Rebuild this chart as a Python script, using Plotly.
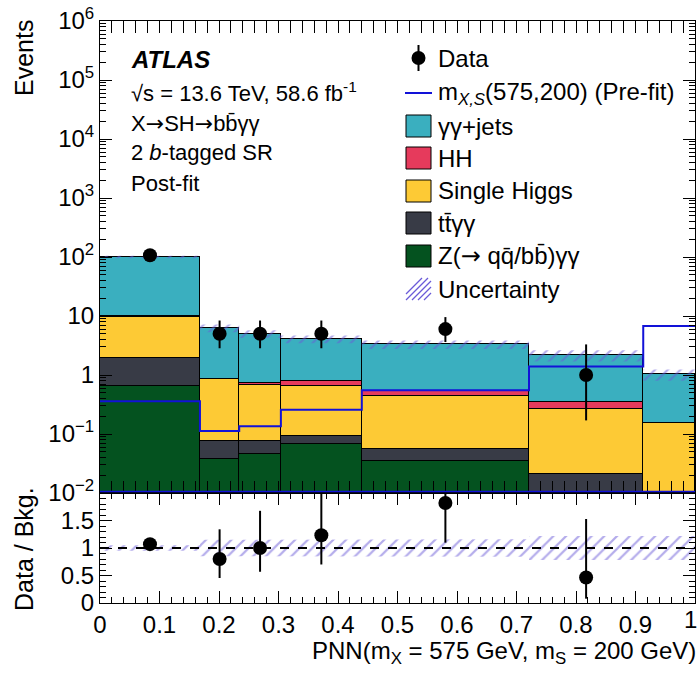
import plotly.graph_objects as go

# ---------------- data ----------------
bin_edges = [0.0, 0.168, 0.234, 0.304, 0.44, 0.721, 0.913, 1.0]

# post-fit background yields per bin (stacked bottom -> top)
z_qq_gg = [0.65, 0.037, 0.046, 0.067, 0.035, 0.0, 0.0]
ttbar_gg = [1.30, 0.038, 0.029, 0.024, 0.020, 0.021, 0.0]
single_higgs = [7.85, 0.77, 0.60, 0.565, 0.385, 0.24, 0.152]
hh = [0.10, 0.01, 0.065, 0.13, 0.10, 0.09, 0.0]
gg_jets = [90.1, 5.40, 4.26, 3.27, 2.76, 1.81, 0.868]

# relative background uncertainty per bin
unc_rel = [0.05, 0.15, 0.15, 0.15, 0.16, 0.22, 0.22]

# signal m_{X,S} = (575, 200), pre-fit
signal_prefit = [0.36, 0.112, 0.135, 0.258, 0.55, 1.40, 6.8]

# observed data (first six bins) with Poisson intervals
data_counts = [107, 5, 5, 5, 6, 1]
data_err_hi = [10.9, 3.38, 3.38, 3.38, 3.58, 2.30]
data_err_lo = [10.3, 2.16, 2.16, 2.16, 2.38, 0.83]

x_ticks = [0, 0.1, 0.2, 0.3, 0.4, 0.5, 0.6, 0.7, 0.8, 0.9, 1.0]
x_labels = ["0", "0.1", "0.2", "0.3", "0.4", "0.5", "0.6", "0.7", "0.8", "0.9", "1"]
main_yticks = [1e-2, 1e-1, 1, 10, 1e2, 1e3, 1e4, 1e5, 1e6]
main_ylabels = ["10<sup>\u22122</sup>", "10<sup>\u22121</sup>", "1", "10",
                "10<sup>2</sup>", "10<sup>3</sup>", "10<sup>4</sup>",
                "10<sup>5</sup>", "10<sup>6</sup>"]
main_minor_mult = [2, 3, 4, 5, 6, 7, 8, 9]
ratio_yticks = [0, 0.5, 1, 1.5]
ratio_ylabels = ["0", "0.5", "1", "1.5"]

# ---------------- derived ----------------
nb = len(bin_edges) - 1
centers = [(bin_edges[i] + bin_edges[i + 1]) / 2 for i in range(nb)]
widths = [bin_edges[i + 1] - bin_edges[i] for i in range(nb)]
total = [z_qq_gg[i] + ttbar_gg[i] + single_higgs[i] + hh[i] + gg_jets[i] for i in range(nb)]
minor_vals = [d * m for d in main_yticks[:-1] for m in main_minor_mult]

FONT = "Liberation Sans, Arial, Helvetica, sans-serif"
ARROW = "<span style='font-family:DejaVu Sans'>\u2192</span>"
C_GGJ = "#3aafbf"
C_HH = "#e63a5c"
C_SH = "#fdca35"
C_TT = "#383b46"
C_Z = "#04521f"
C_SIG = "#1212d8"
C_HATCH = "#6a5ad8"

fig = go.Figure()

# stacked backgrounds
stack = [
    ("Z", z_qq_gg, C_Z),
    ("tt", ttbar_gg, C_TT),
    ("SH", single_higgs, C_SH),
    ("HH", hh, C_HH),
    ("ggj", gg_jets, C_GGJ),
]
for name, vals, col in stack:
    fig.add_trace(go.Bar(
        x=centers, y=vals, width=widths, name=name,
        marker=dict(color=col, line=dict(color="black", width=1)),
        xaxis="x", yaxis="y", showlegend=False, hoverinfo="skip"))


def step_band(lo, hi):
    xs, ys = [], []
    for i in range(nb):
        xs += [bin_edges[i], bin_edges[i + 1]]
        ys += [hi[i], hi[i]]
    for i in reversed(range(nb)):
        xs += [bin_edges[i + 1], bin_edges[i]]
        ys += [lo[i], lo[i]]
    xs.append(xs[0])
    ys.append(ys[0])
    return xs, ys


hatch = dict(shape="/", fgcolor=C_HATCH, bgcolor="rgba(0,0,0,0)", size=9, solidity=0.25)

# uncertainty band on the total background
bx, by = step_band([total[i] * (1 - unc_rel[i]) for i in range(nb)],
                   [total[i] * (1 + unc_rel[i]) for i in range(nb)])
fig.add_trace(go.Scatter(
    x=bx, y=by, mode="lines", fill="toself", line=dict(width=0),
    fillcolor="rgba(0,0,0,0)", fillpattern=hatch,
    xaxis="x", yaxis="y", showlegend=False, hoverinfo="skip"))

# signal step line
sx = list(bin_edges)
sy = list(signal_prefit) + [signal_prefit[-1]]
fig.add_trace(go.Scatter(
    x=sx, y=sy, mode="lines", line=dict(color=C_SIG, width=2, shape="hv"),
    xaxis="x", yaxis="y", showlegend=False, hoverinfo="skip"))

# data
fig.add_trace(go.Scatter(
    x=centers[:len(data_counts)], y=data_counts, mode="markers",
    marker=dict(color="black", size=14),
    error_y=dict(type="data", symmetric=False, array=data_err_hi,
                 arrayminus=data_err_lo, color="black", thickness=2, width=0),
    xaxis="x", yaxis="y", showlegend=False, hoverinfo="skip"))

# carrier for the minor log ticks of the upper panel
fig.add_trace(go.Scatter(x=[0.5], y=[1], mode="markers", marker=dict(opacity=0),
                         xaxis="x", yaxis="y3", showlegend=False, hoverinfo="skip"))

# ---------------- ratio panel ----------------
rx, ry = step_band([1 - u for u in unc_rel], [1 + u for u in unc_rel])
fig.add_trace(go.Scatter(
    x=rx, y=ry, mode="lines", fill="toself", line=dict(width=0),
    fillcolor="rgba(0,0,0,0)", fillpattern=hatch,
    xaxis="x2", yaxis="y2", showlegend=False, hoverinfo="skip"))

fig.add_trace(go.Scatter(
    x=[bin_edges[0], bin_edges[-1]], y=[1, 1], mode="lines",
    line=dict(color="black", width=2, dash="dash"),
    xaxis="x2", yaxis="y2", showlegend=False, hoverinfo="skip"))

nd = len(data_counts)
fig.add_trace(go.Scatter(
    x=centers[:nd], y=[data_counts[i] / total[i] for i in range(nd)],
    mode="markers", marker=dict(color="black", size=14),
    error_y=dict(type="data", symmetric=False,
                 array=[data_err_hi[i] / total[i] for i in range(nd)],
                 arrayminus=[data_err_lo[i] / total[i] for i in range(nd)],
                 color="black", thickness=2, width=0),
    xaxis="x2", yaxis="y2", showlegend=False, hoverinfo="skip"))

# ---------------- layout ----------------
W, H = 700, 678
L, R, T, B = 100, 5, 21, 75
PW, PH = W - L - R, H - T - B
split = 110.0 / PH


def px(x):
    return (x - L) / PW


def py(y):
    return (H - B - y) / PH


tickfont = dict(family=FONT, size=24, color="black")
common_x = dict(range=[0, 1], showline=True, linecolor="black", linewidth=1,
                mirror="allticks", ticks="inside", ticklen=12, tickcolor="black",
                tickvals=x_ticks, showgrid=False, zeroline=False, automargin=False,
                minor=dict(ticks="inside", ticklen=6, dtick=0.02, tickcolor="black",
                           showgrid=False))

# the last x label sits at the page edge; it is placed as an annotation below
x_labels_axis = x_labels[:-1] + [""]

fig.update_layout(
    width=W, height=H,
    margin=dict(l=L, r=R, t=T, b=B, pad=0, autoexpand=False),
    paper_bgcolor="white", plot_bgcolor="white",
    barmode="stack", bargap=0,
    font=dict(family=FONT, size=24, color="black"),
    showlegend=False,
    xaxis=dict(domain=[0, 1], anchor="y", showticklabels=False, **common_x),
    yaxis=dict(domain=[split, 1], anchor="x", type="log", range=[-2, 6],
               tickvals=main_yticks, ticktext=main_ylabels, tickfont=tickfont,
               showline=True, linecolor="black", linewidth=1, mirror="allticks",
               ticks="inside", ticklen=12, tickcolor="black", showgrid=False,
               automargin=False),
    yaxis3=dict(domain=[split, 1], anchor="x", overlaying="y", type="log",
                range=[-2, 6], tickvals=minor_vals, showticklabels=False,
                showline=False, mirror="allticks", ticks="inside", ticklen=6,
                tickcolor="black", showgrid=False, zeroline=False, automargin=False),
    xaxis2=dict(domain=[0, 1], anchor="y2", tickfont=tickfont,
                ticktext=x_labels_axis, **common_x),
    yaxis2=dict(domain=[0, split], anchor="x2", range=[0, 2],
                tickvals=ratio_yticks, ticktext=ratio_ylabels, tickfont=tickfont,
                showline=True, linecolor="black", linewidth=1, mirror="allticks",
                ticks="inside", ticklen=12, tickcolor="black", showgrid=False,
                zeroline=False, automargin=False,
                minor=dict(ticks="inside", ticklen=6, dtick=0.1, tickcolor="black",
                           showgrid=False)),
)

ann = []
shapes = []


def text(x, y, s, size=23, xanchor="left", angle=0, yanchor="middle"):
    ann.append(dict(x=px(x), y=py(y), xref="paper", yref="paper", text=s,
                    showarrow=False, xanchor=xanchor, yanchor=yanchor,
                    textangle=angle, font=dict(family=FONT, size=size, color="black")))


# last x tick label, kept inside the page
text(699, 620, x_labels[-1], size=24, xanchor="right")

# axis titles
text(24, 58, "Events", size=25, xanchor="center", angle=-90)
text(24, 549, "Data / Bkg.", size=25, xanchor="center", angle=-90)
text(698, 652, "PNN(m<sub>X</sub> = 575 GeV, m<sub>S</sub> = 200 GeV)", size=24,
     xanchor="right")

# labels
text(129, 60, "<b><i>ATLAS</i></b>", size=24)
text(129, 92, "\u221As = 13.6 TeV, 58.6 fb<sup>-1</sup>", size=22)
text(129, 123, "X" + ARROW + "SH" + ARROW + "bb\u0304\u03b3\u03b3", size=22)
text(129, 153, "2 <i>b</i>-tagged SR", size=22)
text(129, 183, "Post-fit", size=22)

# legend
lx0, lx1, tx = 406, 431, 436
rows = [58, 93, 126, 158, 191, 223, 256, 289]
labels = ["Data", "m<sub><i>X,S</i></sub>(575,200) (Pre-fit)", "\u03b3\u03b3+jets", "HH",
          "Single Higgs", "tt\u0304\u03b3\u03b3",
          "Z(" + ARROW + " qq\u0304/bb\u0304)\u03b3\u03b3",
          "Uncertainty"]
for r, lab in zip(rows, labels):
    text(tx, r, lab, size=24)

# data marker
shapes.append(dict(type="line", xref="paper", yref="paper",
                   x0=px(418.5), x1=px(418.5), y0=py(rows[0] - 13), y1=py(rows[0] + 13),
                   line=dict(color="black", width=2)))
shapes.append(dict(type="circle", xref="paper", yref="paper",
                   x0=px(411.5), x1=px(425.5), y0=py(rows[0] - 7), y1=py(rows[0] + 7),
                   fillcolor="black", line=dict(color="black", width=0)))
# signal line
shapes.append(dict(type="line", xref="paper", yref="paper",
                   x0=px(405), x1=px(432), y0=py(rows[1]), y1=py(rows[1]),
                   line=dict(color=C_SIG, width=2)))
# filled boxes
for r, col in zip(rows[2:7], [C_GGJ, C_HH, C_SH, C_TT, C_Z]):
    shapes.append(dict(type="rect", xref="paper", yref="paper",
                       x0=px(lx0), x1=px(lx1), y0=py(r + 11), y1=py(r - 11),
                       fillcolor=col, line=dict(color="black", width=1)))
# hatched box
r = rows[7]
for k in range(5):
    xa = lx0 + k * 6 - 6
    x_start, y_start = xa, r + 11
    x_end, y_end = xa + 22, r - 11
    if x_start < lx0:
        y_start -= (lx0 - x_start)
        x_start = lx0
    if x_end > lx1:
        y_end += (x_end - lx1)
        x_end = lx1
    shapes.append(dict(type="line", xref="paper", yref="paper",
                       x0=px(x_start), x1=px(x_end), y0=py(y_start), y1=py(y_end),
                       line=dict(color=C_HATCH, width=1.2)))

# thin signal baseline along the bottom of the upper panel
shapes.append(dict(type="line", xref="paper", yref="paper",
                   x0=0, x1=1, y0=split + 1.5 / PH, y1=split + 1.5 / PH,
                   line=dict(color=C_SIG, width=1.5)))

fig.update_layout(annotations=ann, shapes=shapes)
fig.write_html("out.html")
